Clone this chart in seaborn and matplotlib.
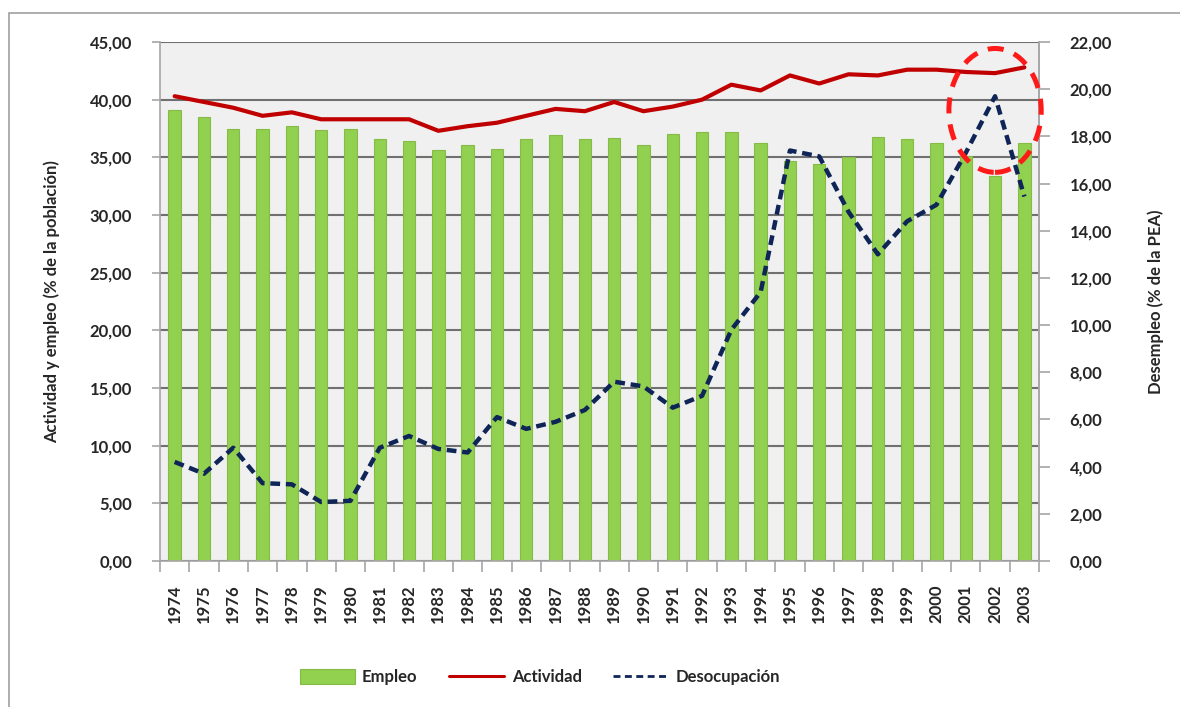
import numpy as np
import pandas as pd
import matplotlib
matplotlib.use("Agg")
import matplotlib.pyplot as plt
from matplotlib.patches import Ellipse, Rectangle
from matplotlib.ticker import FuncFormatter, FixedLocator
import seaborn as sns

# ---------------- data ----------------
years = [str(y) for y in range(1974, 2004)]
empleo = [39.1, 38.5, 37.5, 37.5, 37.7, 37.4, 37.5, 36.6, 36.4, 35.6,
          36.1, 35.7, 36.6, 36.9, 36.6, 36.7, 36.1, 37.0, 37.2, 37.2,
          36.2, 34.7, 34.4, 35.0, 36.8, 36.6, 36.2, 35.1, 33.4, 36.2]
actividad = [40.3, 39.8, 39.3, 38.6, 38.9, 38.3, 38.3, 38.3, 38.3, 37.3,
             37.7, 38.0, 38.6, 39.2, 39.0, 39.8, 39.0, 39.4, 40.0, 41.3,
             40.8, 42.1, 41.4, 42.2, 42.1, 42.6, 42.6, 42.4, 42.3, 42.8]
desocupacion = [4.2, 3.7, 4.8, 3.3, 3.25, 2.5, 2.55, 4.8, 5.3, 4.75,
                4.6, 6.1, 5.6, 5.9, 6.4, 7.6, 7.4, 6.5, 7.0, 9.8,
                11.4, 17.4, 17.15, 14.8, 13.0, 14.4, 15.1, 17.3, 19.7, 15.45]
left_ticks = [0, 5, 10, 15, 20, 25, 30, 35, 40, 45]
right_ticks = [0, 2, 4, 6, 8, 10, 12, 14, 16, 18, 20, 22]
highlight_year = "2002"

labels = {"bar": "Empleo", "act": "Actividad", "des": "Desocupación"}

df = pd.DataFrame({"year": years, "empleo": empleo,
                   "actividad": actividad, "desocupacion": desocupacion})
df["pos"] = np.arange(len(df))

# ---------------- style ----------------
sns.set_theme(style="white")
plt.rcParams["font.family"] = ["Lato", "DejaVu Sans"]
plt.rcParams["font.weight"] = "bold"

FS = 12
GREEN = "#92D050"
RED = "#C00000"
NAVY = "#0F2557"
GRID = "#707070"
AXC = "#A6A6A6"

fig = plt.figure(figsize=(11.8, 7.07), dpi=100)
fig.patch.set_facecolor("white")
# outer chart border (left/top visible)
fig.patches.append(Rectangle((9 / 1180, -0.05), 1.2, 1 - 13 / 707 + 0.05,
                             transform=fig.transFigure, fill=False,
                             edgecolor="#A0A0A0", lw=1.2, zorder=0))

ax = fig.add_axes([160 / 1180, 1 - 561 / 707, 879 / 1180, 519 / 707])
ax.set_facecolor("#F0F0F0")

sns.barplot(data=df, x="year", y="empleo", color=GREEN, width=0.42,
            saturation=1, edgecolor="#84BC45", linewidth=0.8,
            label=labels["bar"], ax=ax, zorder=2)
sns.lineplot(data=df, x="pos", y="actividad", color=RED, lw=3.0,
             label=labels["act"], ax=ax, zorder=3)

ax.set_xlim(-0.5, len(df) - 0.5)
ax.set_ylim(0, 45)
ax.yaxis.set_major_locator(FixedLocator(left_ticks))
ax.yaxis.set_major_formatter(FuncFormatter(lambda v, p: f"{v:.2f}".replace(".", ",")))
ax.grid(axis="y", color=GRID, lw=1.5, zorder=1)
ax.set_axisbelow(True)
ax.set_xticks(df["pos"])
ax.set_xticklabels(years, rotation=90, fontsize=FS, fontweight="bold")
ax.set_xticks(np.arange(-0.5, len(df), 1.0), minor=True)
ax.tick_params(axis="x", which="major", length=0, pad=17)
ax.tick_params(axis="x", which="minor", length=8, width=1.2, color=AXC, bottom=True)
ax.tick_params(axis="y", which="major", length=6, width=1.2, color=AXC,
               labelsize=FS, pad=14, left=True)
for t in ax.get_yticklabels():
    t.set_fontweight("bold")
ax.set_xlabel("")
ax.set_ylabel("Actividad y empleo (% de la población)", fontsize=FS,
              fontweight="bold")
ax.yaxis.set_label_coords(-0.114, 0.5)
for s in ["left", "bottom", "right"]:
    ax.spines[s].set_color(AXC)
    ax.spines[s].set_linewidth(1.2)
ax.spines["top"].set_visible(False)
if ax.get_legend():
    ax.get_legend().remove()

# ---------------- right axis ----------------
ax2 = ax.twinx()
sns.lineplot(data=df, x="pos", y="desocupacion", color=NAVY, lw=3.2,
             linestyle=(0, (2.2, 1.3)), label=labels["des"], ax=ax2, zorder=4)
ax2.set_ylim(0, 22)
ax2.yaxis.set_major_locator(FixedLocator(right_ticks))
ax2.yaxis.set_major_formatter(FuncFormatter(lambda v, p: f"{v:.2f}".replace(".", ",")))
ax2.tick_params(axis="y", length=8, width=1.2, color=AXC, labelsize=FS, pad=14,
                right=True)
for t in ax2.get_yticklabels():
    t.set_fontweight("bold")
ax2.set_ylabel("Desempleo (% de la PEA)", fontsize=FS, fontweight="bold")
ax2.yaxis.set_label_coords(1.123, 0.5)
ax2.grid(False)
for s in ["left", "bottom", "top"]:
    ax2.spines[s].set_visible(False)
ax2.spines["right"].set_color(AXC)
ax2.spines["right"].set_linewidth(1.2)
if ax2.get_legend():
    ax2.get_legend().remove()

# highlight ellipse around the 2002 peak
hi = years.index(highlight_year)
ell = Ellipse((hi, desocupacion[hi] - 0.6), width=3.15, height=5.25,
              fill=False, edgecolor="#FF1A1A", lw=3.6,
              linestyle=(0, (3.2, 2.2)), clip_on=False, zorder=6)
ax2.add_patch(ell)

# ---------------- legend ----------------
h1, l1 = ax.get_legend_handles_labels()
h2, l2 = ax2.get_legend_handles_labels()
handles = dict(zip(l1 + l2, h1 + h2))
order = [labels["bar"], labels["act"], labels["des"]]
leg = fig.legend([handles[k] for k in order], order, loc="center", ncol=3,
                 bbox_to_anchor=(540 / 1180, 1 - 677 / 707), frameon=False,
                 handlelength=3.3, handleheight=1.0,
                 handletextpad=0.45, columnspacing=1.9,
                 prop={"weight": "bold", "size": FS})
leg_lines = leg.get_lines()
if len(leg_lines) >= 2:
    leg_lines[0].set_linewidth(2.2)
    leg_lines[1].set_linewidth(2.0)
    leg_lines[1].set_linestyle((0, (2.5, 1.6)))

fig.savefig("out.png", dpi=100)
